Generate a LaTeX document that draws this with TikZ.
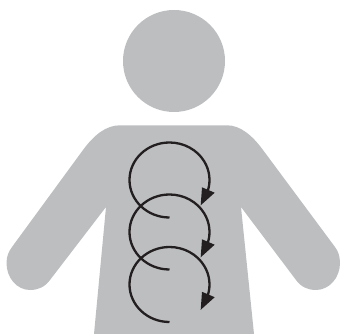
\documentclass[tikz,border=0pt]{standalone}
\definecolor{figgray}{HTML}{BCBEC0}
\definecolor{coilink}{HTML}{231F20}
\tikzset{
  silhouette/.style={fill=figgray,draw=none},
  coil/.style={draw=coilink,line width=2.3pt},
  coilhead/.style={fill=coilink,draw=none}
}
\begin{document}
\begin{tikzpicture}[x=1pt,y=1pt]
\useasboundingbox (0,0) rectangle (340,334);
\fill[silhouette] (174,273) circle[radius=51];
\fill[silhouette]
  (120,208.7) -- (227,208.7)
  .. controls (240,208.7) and (252,199) .. (263,184)
  -- (335,87)
  .. controls (338,83) and (340,78) .. (340,71)
  .. controls (340,56) and (329,44) .. (316,44)
  .. controls (308,44) and (301,47) .. (296,54)
  -- (241,127) -- (254,0) -- (94,0) -- (106,127)
  -- (50,54)
  .. controls (45,47) and (38,44) .. (30,44)
  .. controls (17,44) and (6.5,56) .. (6.5,71)
  .. controls (6.5,78) and (9,83) .. (12,87)
  -- (83,184)
  .. controls (94,199) and (106,208.7) .. (120,208.7) -- cycle;
\foreach \d in {0,52,104.5} {
  \begin{scope}[yshift=-\d pt]
    \draw[coil] (169.5,116.5) arc[start angle=270,end angle=-17,x radius=40,y radius=37.5];
    \fill[coilhead] (200.7,128.7) -- (202,146.7) -- (214.7,141.3) -- cycle;
  \end{scope}
}
\end{tikzpicture}
\end{document}
